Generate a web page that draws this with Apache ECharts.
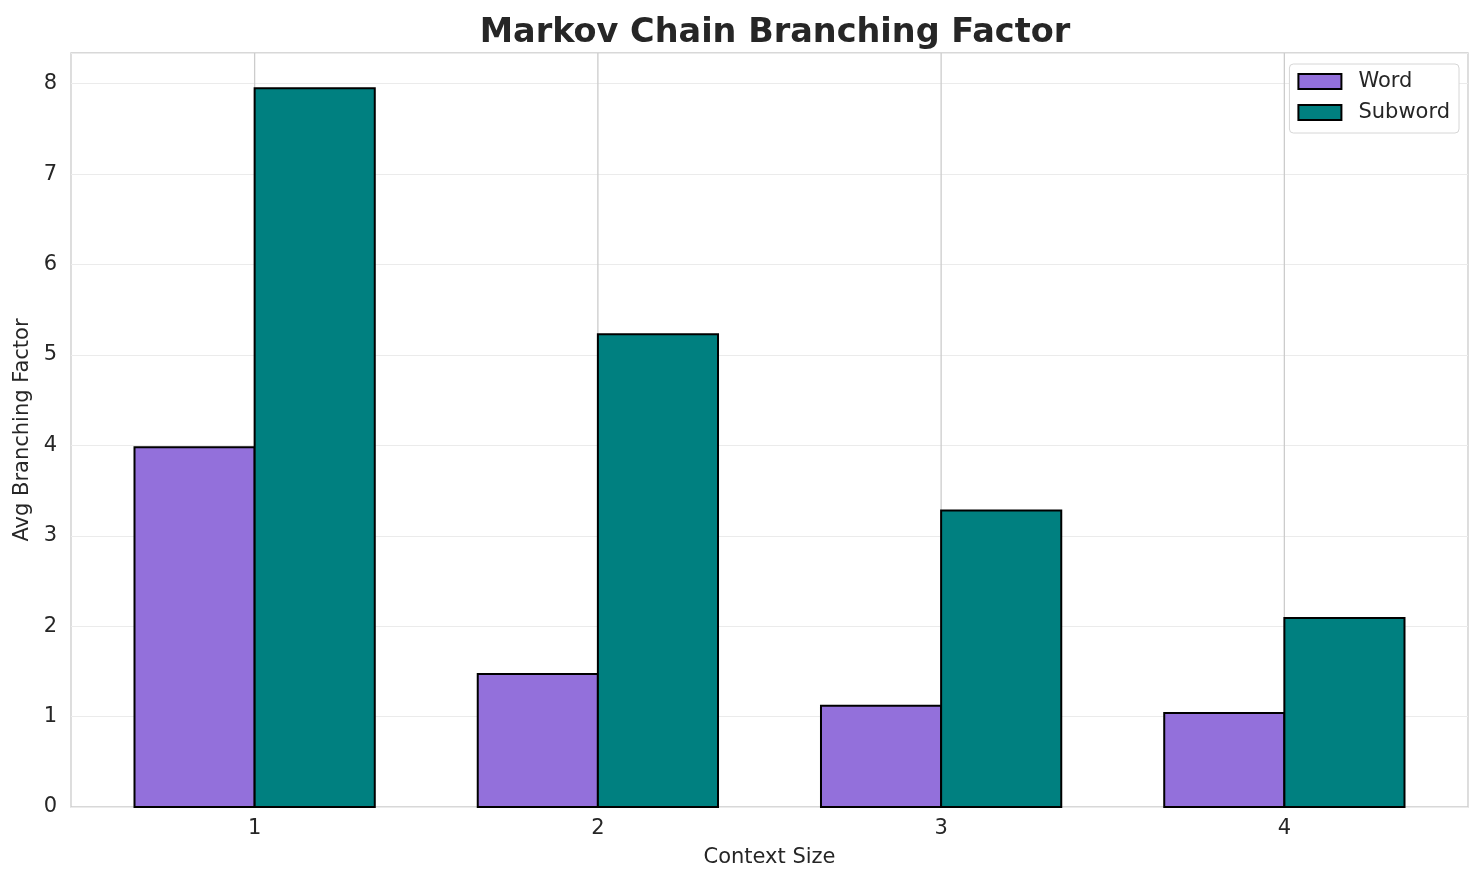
<!DOCTYPE html>
<html>
<head>
<meta charset="utf-8">
<script src="https://cdn.jsdelivr.net/npm/echarts@6/dist/echarts.min.js"></script>
<style>html,body{margin:0;padding:0;background:#fff;}#c{width:1484px;height:885px;}</style>
</head>
<body>
<div id="c"></div>
<script>
const categories = ['1', '2', '3', '4'];
const wordValues = [3.98, 1.47, 1.12, 1.04];
const subwordValues = [7.95, 5.23, 3.28, 2.09];
const yTicks = [0, 1, 2, 3, 4, 5, 6, 7, 8];

const BAR_W = 0.35;
const font = 'DejaVu Sans';
const txt = '#262626';

function makeRender(offset) {
  return function (params, api) {
    const i = api.value(0), v = api.value(1);
    const p0 = api.coord([i + offset, v]);
    const p1 = api.coord([i + offset + BAR_W, 0]);
    return {
      type: 'rect',
      shape: { x: p0[0], y: p0[1], width: p1[0] - p0[0], height: p1[1] - p0[1] },
      style: { fill: api.visual('color'), stroke: '#000', lineWidth: 2 }
    };
  };
}

function renderVGrid(params, api) {
  const cs = params.coordSys;
  const p = api.coord([api.value(0), 0]);
  return {
    type: 'line',
    shape: { x1: p[0], y1: cs.y, x2: p[0], y2: cs.y + cs.height },
    style: { stroke: '#cccccc', lineWidth: 1.3 }
  };
}

const chart = echarts.init(document.getElementById('c'), null, { renderer: 'canvas' });
chart.setOption({
  animation: false,
  backgroundColor: '#fff',
  title: {
    text: 'Markov Chain Branching Factor',
    left: 770, top: 11, textAlign: 'center',
    textStyle: { fontFamily: font, fontSize: 33.5, fontWeight: 'bold', color: txt }
  },
  legend: {
    right: 25, top: 64,
    orient: 'vertical',
    data: ['Word', 'Subword'],
    icon: 'rect',
    itemWidth: 43, itemHeight: 15, itemGap: 10,
    padding: [7, 9, 10, 8],
    backgroundColor: '#fff',
    borderColor: '#d6d6d6', borderWidth: 1, borderRadius: 4,
    itemStyle: { borderColor: '#000', borderWidth: 2 },
    textStyle: { fontFamily: font, fontSize: 21, color: txt, padding: [0, 0, 0, 12] }
  },
  grid: {
    left: 71, right: 16, top: 53, bottom: 78,
    show: true, borderColor: '#cccccc', borderWidth: 1.3, backgroundColor: '#fff'
  },
  xAxis: {
    type: 'value', min: -0.535, max: 3.535,
    name: 'Context Size', nameLocation: 'middle', nameGap: 40,
    nameTextStyle: { fontFamily: font, fontSize: 21, color: txt },
    axisLine: { show: false }, axisTick: { show: false },
    splitLine: { show: false },
    axisLabel: {
      customValues: categories.map((c, i) => i),
      formatter: v => categories[Math.round(v)],
      fontFamily: font, fontSize: 21, color: txt, margin: 11
    }
  },
  yAxis: {
    type: 'value', min: 0, max: 8.34, interval: 1,
    name: 'Avg Branching Factor', nameLocation: 'middle', nameGap: 36, nameRotate: 90,
    nameTextStyle: { fontFamily: font, fontSize: 21, color: txt },
    axisLine: { show: false }, axisTick: { show: false },
    axisLabel: {
      customValues: yTicks,
      formatter: v => String(v),
      fontFamily: font, fontSize: 21, color: txt, margin: 14
    },
    splitLine: { show: true, lineStyle: { color: '#ebebeb', width: 1.2 } }
  },
  series: [
    {
      name: 'grid-v', type: 'custom', z: 1, silent: true,
      renderItem: renderVGrid,
      encode: { x: 0 },
      data: categories.map((c, i) => [i])
    },
    {
      name: 'Word', type: 'custom', z: 3,
      itemStyle: { color: '#9370DB' },
      renderItem: makeRender(-BAR_W),
      encode: { x: 0, y: 1 },
      data: wordValues.map((v, i) => [i, v])
    },
    {
      name: 'Subword', type: 'custom', z: 3,
      itemStyle: { color: '#008080' },
      renderItem: makeRender(0),
      encode: { x: 0, y: 1 },
      data: subwordValues.map((v, i) => [i, v])
    }
  ]
});
</script>
</body>
</html>
